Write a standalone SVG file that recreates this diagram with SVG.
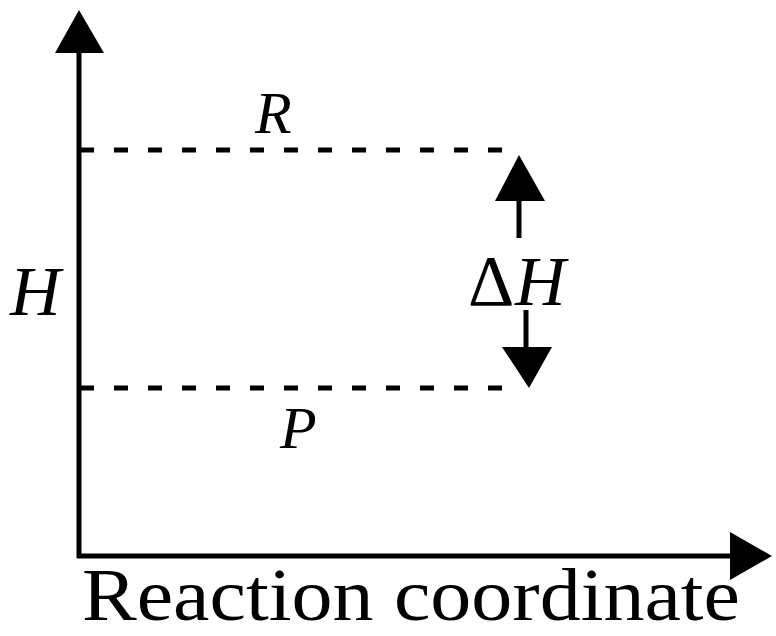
<svg xmlns="http://www.w3.org/2000/svg" width="776" height="636" viewBox="0 0 776 636">
<style>
.ax{stroke:#000;stroke-width:5;fill:none}
.dot{stroke:#000;stroke-width:5;stroke-dasharray:14 20;fill:none}
.t{font-family:"Liberation Serif","Times New Roman",serif;fill:#000}
.i{font-style:italic}
</style>
<rect width="776" height="636" fill="#fff"/>
<g id="connectors">
<line class="ax" x1="79" y1="50" x2="79" y2="558"/>
<polygon points="79,10 55,53 104,53" fill="#000"/>
<line class="ax" x1="77" y1="556" x2="735" y2="556"/>
<polygon points="772,556 730,532 730,580" fill="#000"/>
<line class="dot" x1="80" y1="150" x2="512" y2="150"/>
<line class="dot" x1="80" y1="388" x2="512" y2="388"/>
<line class="ax" x1="519" y1="195" x2="519" y2="238"/>
<polygon points="519,155 495,201 545,201" fill="#000"/>
<line class="ax" x1="526" y1="310" x2="526" y2="352"/>
<polygon points="529,388 502,347 552,347" fill="#000"/>
</g>
<g id="labels">
<text class="t i" x="255" y="133" font-size="60">R</text>
<text class="t i" x="280" y="448" font-size="60">P</text>
<text class="t i" x="10" y="315" font-size="70">H</text>
<text class="t" x="468" y="305" font-size="72">Δ</text>
<text class="t i" x="515" y="305" font-size="70">H</text>
<text class="t" x="82" y="620" font-size="74" textLength="658" lengthAdjust="spacingAndGlyphs">Reaction coordinate</text>
</g>
</svg>
